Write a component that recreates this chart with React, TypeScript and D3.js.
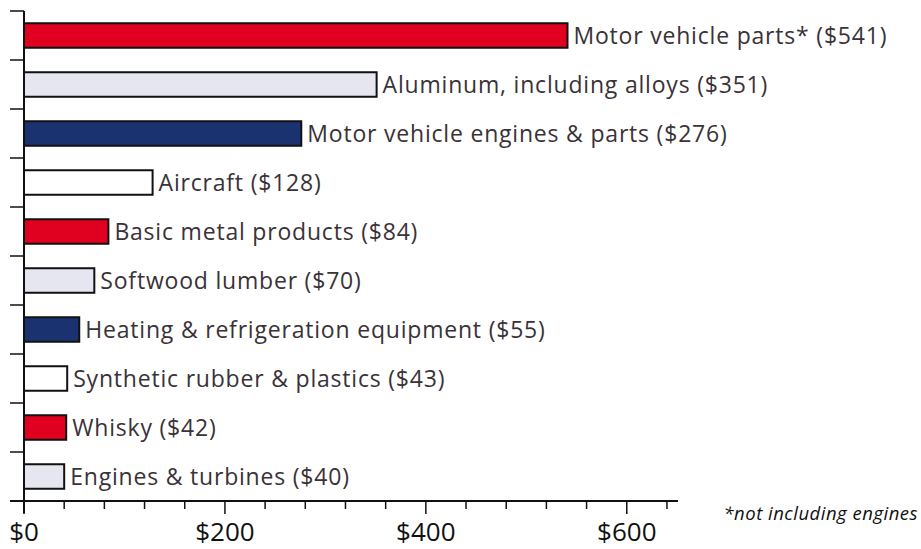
import React from "react";
import * as d3 from "d3";

const categories = [
  "Motor vehicle parts*",
  "Aluminum, including alloys",
  "Motor vehicle engines & parts",
  "Aircraft",
  "Basic metal products",
  "Softwood lumber",
  "Heating & refrigeration equipment",
  "Synthetic rubber & plastics",
  "Whisky",
  "Engines & turbines",
];
const values = [541, 351, 276, 128, 84, 70, 55, 43, 42, 40];
const barColors = ["#e0001f", "#e6e6f0", "#1a3370", "#ffffff"];
const xTickLabels = ["$0", "$200", "$400", "$600"];

const width = 921;
const height = 549;
const margin = { top: 11, left: 24, right: 244, bottom: 48 };
const textColor = "#3a3238";
const font = "'Open Sans', sans-serif";

export default function App() {
  const x = d3
    .scaleLinear()
    .domain([0, 650])
    .range([margin.left, width - margin.right]);
  const y = d3
    .scaleBand()
    .domain(categories)
    .range([margin.top, height - margin.bottom])
    .paddingInner(0.5)
    .paddingOuter(0.25);
  const step = y.step();
  const axisY = height - margin.bottom;
  const minorTicks = d3.range(0, 641, 40);

  return (
    <svg width={width} height={height} style={{ position: "absolute", left: 0, top: 0 }}>
      {/* bars */}
      {categories.map((c, i) => (
        <g key={c}>
          <rect
            x={x(0)}
            y={y(c)}
            width={x(values[i]) - x(0)}
            height={y.bandwidth()}
            fill={barColors[i % 4]}
            stroke="#111"
            strokeWidth={2}
          />
          <text
            x={x(values[i]) + 6}
            y={(y(c) ?? 0) + y.bandwidth() / 2}
            dy="0.35em"
            fill={textColor}
            fontFamily={font}
            fontSize={23}
            letterSpacing={0.8}
          >
            {`${c} ($${values[i]})`}
          </text>
        </g>
      ))}

      {/* y axis */}
      <line x1={x(0)} x2={x(0)} y1={margin.top} y2={axisY + 12} stroke="#111" strokeWidth={2} />
      {d3.range(categories.length).map(i => (
        <line
          key={i}
          x1={x(0) - 14}
          x2={x(0)}
          y1={margin.top + i * step}
          y2={margin.top + i * step}
          stroke="#111"
          strokeWidth={1.5}
        />
      ))}

      {/* x axis */}
      <line x1={x(0) - 14} x2={x(650) + 1} y1={axisY} y2={axisY} stroke="#111" strokeWidth={2} />
      {minorTicks.map(t => (
        <line
          key={t}
          x1={x(t)}
          x2={x(t)}
          y1={axisY}
          y2={axisY + (t % 200 === 0 ? 13 : 8)}
          stroke="#111"
          strokeWidth={1.5}
        />
      ))}
      {xTickLabels.map((l, i) => (
        <text
          key={l}
          x={x(i * 200)}
          y={axisY + 31}
          dy="0.35em"
          textAnchor="middle"
          fill="#111"
          fontFamily={font}
          fontSize={26}
        >
          {l}
        </text>
      ))}

      <text
        x={918}
        y={axisY + 19}
        textAnchor="end"
        fill="#111"
        fontFamily={font}
        fontStyle="italic"
        fontSize={18.5}
        letterSpacing={0.5}
      >
        *not including engines
      </text>
    </svg>
  );
}
